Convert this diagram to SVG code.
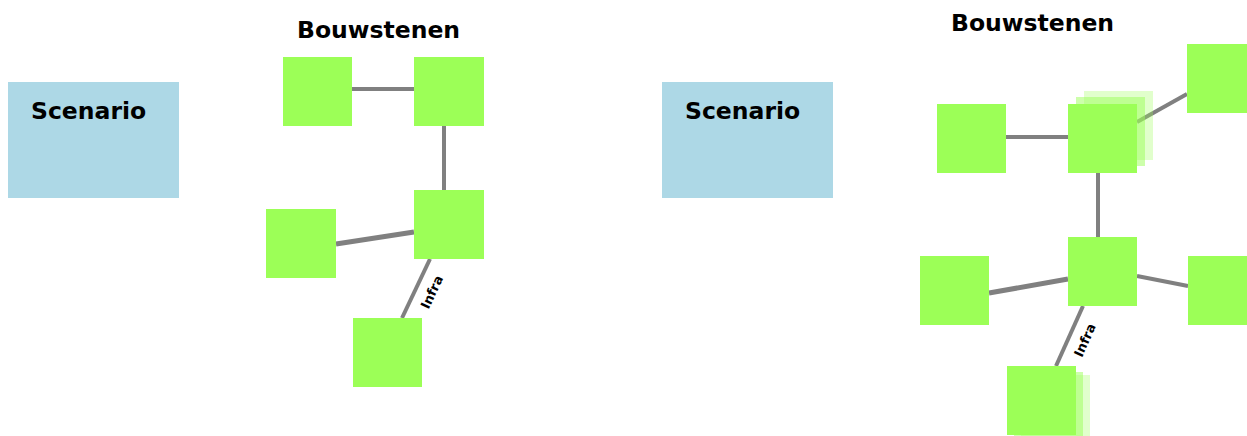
<svg xmlns="http://www.w3.org/2000/svg" width="1247" height="436" viewBox="0 0 1247 436">
<style>
.sc{fill:#add8e6}
.bk{fill:#9cff57}
.s1{fill:#9cff57;opacity:0.5}
.s2{fill:#9cff57;opacity:0.3}
.t{font-family:"DejaVu Sans",sans-serif;font-weight:bold;fill:#000}
.big{font-size:23.5px}
.lbl{font-size:13px}
.c{stroke:#808080;stroke-width:4;fill:none}
.cw{stroke:#808080;stroke-width:5;fill:none}
</style>
<rect width="1247" height="436" fill="#fff"/>
<g id="connectors">
<line class="c" x1="352" y1="89" x2="414" y2="89"/>
<line class="c" x1="444" y1="126" x2="444" y2="190"/>
<line class="cw" x1="336" y1="244" x2="414" y2="232"/>
<line class="c" x1="430" y1="259" x2="402" y2="318"/>
<text class="t lbl" x="436" y="294" text-anchor="middle" transform="rotate(-65 436 294)">Infra</text>
<line class="c" x1="1006" y1="137" x2="1068" y2="137"/>
<line class="c" x1="1137" y1="122" x2="1187" y2="94"/>
<line class="c" x1="1098" y1="173" x2="1098" y2="237"/>
<line class="cw" x1="989" y1="293" x2="1068" y2="279"/>
<line class="c" x1="1137" y1="276" x2="1188" y2="286"/>
<line class="c" x1="1083" y1="306" x2="1056" y2="366"/>
<text class="t lbl" x="1089" y="342" text-anchor="middle" transform="rotate(-66 1089 342)">Infra</text>
</g>
<g id="scenario-left"><rect class="sc" x="8" y="82" width="171" height="116"/><text class="t big" x="31" y="119">Scenario</text></g>
<g id="title-left"><text class="t big" x="297" y="38">Bouwstenen</text></g>
<g id="nodeA"><rect class="bk" x="283" y="57" width="69" height="69"/></g>
<g id="nodeB"><rect class="bk" x="414" y="57" width="70" height="69"/></g>
<g id="nodeC"><rect class="bk" x="414" y="190" width="70" height="69"/></g>
<g id="nodeD"><rect class="bk" x="266" y="209" width="70" height="69"/></g>
<g id="nodeE"><rect class="bk" x="353" y="318" width="69" height="69"/></g>
<g id="scenario-right"><rect class="sc" x="662" y="82" width="171" height="116"/><text class="t big" x="685" y="119">Scenario</text></g>
<g id="title-right"><text class="t big" x="951" y="31">Bouwstenen</text></g>
<g id="nodeF"><rect class="bk" x="937" y="104" width="69" height="69"/></g>
<g id="nodeG"><rect class="s2" x="1084" y="91" width="69" height="69"/><rect class="s1" x="1076" y="97" width="69" height="69"/><rect class="bk" x="1068" y="104" width="69" height="69"/></g>
<g id="nodeH"><rect class="bk" x="1187" y="44" width="69" height="69"/></g>
<g id="nodeI"><rect class="bk" x="1068" y="237" width="69" height="69"/></g>
<g id="nodeJ"><rect class="bk" x="920" y="256" width="69" height="69"/></g>
<g id="nodeK"><rect class="bk" x="1188" y="256" width="69" height="69"/></g>
<g id="nodeL"><rect class="s2" x="1021" y="375" width="69" height="69"/><rect class="s1" x="1014" y="372" width="69" height="69"/><rect class="bk" x="1007" y="366" width="69" height="69"/></g>
</svg>
